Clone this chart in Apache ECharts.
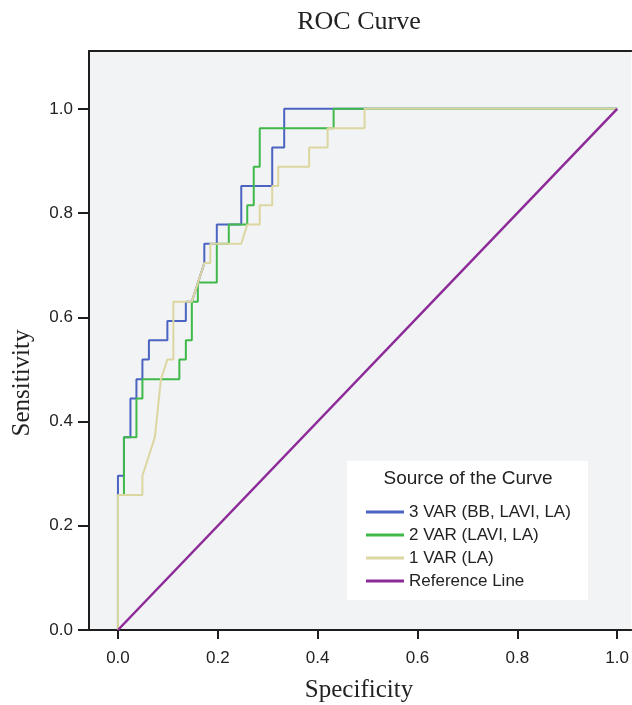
<!DOCTYPE html>
<html>
<head>
<meta charset="utf-8">
<title>ROC Curve</title>
<script src="https://cdn.jsdelivr.net/npm/echarts@6/dist/echarts.min.js"></script>
<style>
  html, body { margin: 0; padding: 0; background: #fff; }
  #chart { width: 632px; height: 705px; }
</style>
</head>
<body>
<div id="chart"></div>
<script>
// series names (legend order)
var seriesNames = ['3 VAR (BB, LAVI, LA)', '2 VAR (LAVI, LA)', '1 VAR (LA)', 'Reference Line'];

// 3 VAR curve points
var spec3 = [0, 0, 0.012, 0.012, 0.025, 0.025, 0.037, 0.037, 0.049, 0.049, 0.062, 0.062, 0.099, 0.099,
  0.136, 0.136, 0.148, 0.173, 0.173, 0.198, 0.198, 0.247, 0.247, 0.309, 0.309, 0.333, 0.333, 1.0];
var sens3 = [0, 0.296, 0.296, 0.370, 0.370, 0.444, 0.444, 0.481, 0.481, 0.519, 0.519, 0.556, 0.556, 0.593,
  0.593, 0.630, 0.630, 0.704, 0.741, 0.741, 0.778, 0.778, 0.852, 0.852, 0.926, 0.926, 1.0, 1.0];

// 2 VAR curve
var spec2 = [0, 0, 0.012, 0.012, 0.037, 0.037, 0.049, 0.049, 0.123, 0.123, 0.136, 0.136, 0.148, 0.148,
  0.160, 0.160, 0.198, 0.198, 0.222, 0.222, 0.259, 0.259, 0.272, 0.272, 0.284, 0.284, 0.432, 0.432, 1.0];
var sens2 = [0, 0.259, 0.259, 0.370, 0.370, 0.444, 0.444, 0.481, 0.481, 0.519, 0.519, 0.556, 0.556, 0.630,
  0.630, 0.667, 0.667, 0.741, 0.741, 0.778, 0.778, 0.815, 0.815, 0.889, 0.889, 0.963, 0.963, 1.0, 1.0];

// 1 VAR curve
var spec1 = [0, 0, 0.049, 0.049, 0.074, 0.086, 0.099, 0.111, 0.111, 0.148, 0.173, 0.185, 0.185, 0.247,
  0.259, 0.284, 0.284, 0.309, 0.309, 0.321, 0.321, 0.383, 0.383, 0.420, 0.420, 0.494, 0.494, 1.0];
var sens1 = [0, 0.259, 0.259, 0.296, 0.370, 0.481, 0.519, 0.519, 0.630, 0.630, 0.704, 0.704, 0.741, 0.741,
  0.778, 0.778, 0.815, 0.815, 0.852, 0.852, 0.889, 0.889, 0.926, 0.926, 0.963, 0.963, 1.0, 1.0];

// reference diagonal
var specRef = [0, 1];
var sensRef = [0, 1];

// tick labels on both axes
var tickValues = [0, 0.2, 0.4, 0.6, 0.8, 1.0];

var colors = ['#4b64c1', '#40b94b', '#dcd6a0', '#8c2a98'];

function pairs(xs, ys) {
  var out = [];
  for (var i = 0; i < xs.length; i++) out.push([xs[i], ys[i]]);
  return out;
}

function lineSeries(name, xs, ys, color, width) {
  return {
    name: name,
    type: 'line',
    data: pairs(xs, ys),
    symbol: 'none',
    color: color,
    lineStyle: { color: color, width: width },
    itemStyle: { color: color },
    emphasis: { disabled: true },
    silent: true
  };
}

var sans = 'Liberation Sans, Arial, sans-serif';
var serif = 'Liberation Serif, Times New Roman, serif';
var frame = { color: '#1e1e1e', width: 2 };

var chart = echarts.init(document.getElementById('chart'));
chart.setOption({
  animation: false,
  backgroundColor: '#fff',
  grid: {
    left: 89, top: 51, right: 0, height: 579,
    show: true,
    backgroundColor: '#f2f3f5',
    borderWidth: 0
  },
  xAxis: [{
    type: 'value',
    min: -0.058, max: 1.028,
    axisLine: { show: true, onZero: false, lineStyle: frame },
    axisTick: { show: true, customValues: tickValues, length: 9, lineStyle: frame },
    axisLabel: {
      customValues: tickValues, margin: 20,
      fontFamily: sans, fontSize: 17, color: '#222',
      formatter: function (v) { return v.toFixed(1); }
    },
    splitLine: { show: false }
  }, {
    // only used for the top edge of the frame
    type: 'value',
    position: 'top',
    min: -0.058, max: 1.028,
    axisLine: { show: true, onZero: false, lineStyle: frame },
    axisTick: { show: false },
    axisLabel: { show: false },
    splitLine: { show: false }
  }],
  yAxis: {
    type: 'value',
    min: 0, max: 1.111,
    axisLine: { show: true, onZero: false, lineStyle: frame },
    axisTick: { show: true, customValues: tickValues, length: 11, lineStyle: frame },
    axisLabel: {
      customValues: tickValues, margin: 16,
      fontFamily: sans, fontSize: 17, color: '#222',
      formatter: function (v) { return v.toFixed(1); }
    },
    splitLine: { show: false }
  },
  legend: {
    orient: 'vertical',
    left: 361, top: 497,
    z: 6,
    data: seriesNames,
    icon: 'rect',
    itemWidth: 38, itemHeight: 3,
    itemGap: 3,
    selectedMode: false,
    textStyle: { fontFamily: sans, fontSize: 17, color: '#222', lineHeight: 20 }
  },
  graphic: [
    // legend box + its heading
    { type: 'rect', z: 5, shape: { x: 347, y: 461, width: 241, height: 139 }, style: { fill: '#fff' } },
    { type: 'text', z: 6, style: { text: 'Source of the Curve', x: 468, y: 479, textAlign: 'center', textVerticalAlign: 'middle', font: '19px ' + sans, fill: '#222' } },
    // chart title and axis names
    { type: 'text', style: { text: 'ROC Curve', x: 359, y: 22, textAlign: 'center', textVerticalAlign: 'middle', font: '26px ' + serif, fill: '#222' } },
    { type: 'text', style: { text: 'Specificity', x: 359, y: 690, textAlign: 'center', textVerticalAlign: 'middle', font: '25px ' + serif, fill: '#222' } },
    { type: 'text', x: 22, y: 383, rotation: Math.PI / 2, style: { text: 'Sensitivity', x: 0, y: 0, textAlign: 'center', textVerticalAlign: 'middle', font: '25px ' + serif, fill: '#222' } }
  ],
  series: [
    lineSeries(seriesNames[0], spec3, sens3, colors[0], 2),
    lineSeries(seriesNames[1], spec2, sens2, colors[1], 2),
    lineSeries(seriesNames[2], spec1, sens1, colors[2], 2),
    lineSeries(seriesNames[3], specRef, sensRef, colors[3], 2.5)
  ]
});

window.onresize = function () {
  chart.resize();
};
</script>
</body>
</html>
